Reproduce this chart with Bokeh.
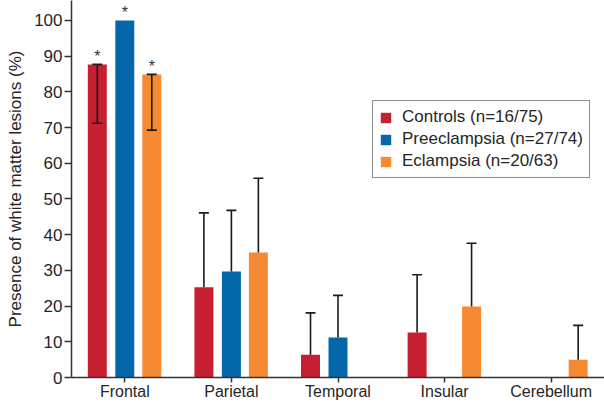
from bokeh.plotting import figure
from bokeh.models import ColumnDataSource, FactorRange, Range1d, Whisker, TeeHead, Legend, LegendItem
from bokeh.transform import dodge
from bokeh.core.properties import value
from bokeh.embed import file_html
from bokeh.resources import INLINE

categories = ["Frontal", "Parietal", "Temporal", "Insular", "Cerebellum"]
series_names = ["Controls (n=16/75)", "Preeclampsia (n=27/74)", "Eclampsia (n=20/63)"]
controls = [87.7, 25.3, 6.4, 12.6, 0]
preeclampsia = [100, 29.7, 11.2, 0, 0]
eclampsia = [84.9, 35.0, 0, 19.9, 5.0]
controls_err = [71.2, 46.1, 18.1, 28.8, None]
preeclampsia_err = [None, 46.8, 23.0, None, None]
eclampsia_err = [69.3, 55.8, None, 37.6, 14.6]
controls_sig = ["*", "", "", "", ""]
preeclampsia_sig = ["*", "", "", "", ""]
eclampsia_sig = ["*", "", "", "", ""]
y_ticks = [0, 10, 20, 30, 40, 50, 60, 70, 80, 90, 100]

colors = ["#C61F31", "#0467A9", "#F68A33"]
offsets = [-0.258, 0.0, 0.253]
FONT = "Liberation Sans"
TXT = "#262626"

p = figure(width=604, height=402, x_range=FactorRange(*categories, range_padding=0),
           y_range=Range1d(0, 105.6), output_backend="svg", toolbar_location=None,
           min_border_left=71, min_border_right=0, min_border_top=0, min_border_bottom=25)
p.outline_line_color = None
p.xgrid.grid_line_color = None
p.ygrid.grid_line_color = None
p.background_fill_color = "white"
p.border_fill_color = "white"

items = []
series = [(controls, controls_err, controls_sig), (preeclampsia, preeclampsia_err, preeclampsia_sig),
          (eclampsia, eclampsia_err, eclampsia_sig)]
for (vals, errs, sig), name, col, off in zip(series, series_names, colors, offsets):
    src = ColumnDataSource(dict(cat=categories, val=vals))
    r = p.vbar(x=dodge("cat", off, range=p.x_range), top="val", width=0.178, source=src,
               fill_color=col, line_color=None)
    items.append(LegendItem(label=name, renderers=[r]))
    down = dict(cat=[], lo=[], hi=[])
    up = dict(cat=[], lo=[], hi=[])
    for c, v, e in zip(categories, vals, errs):
        if e is None:
            continue
        d = down if e < v else up
        d["cat"].append(c)
        d["lo"].append(min(v, e))
        d["hi"].append(max(v, e))
    for d, heads in ((down, True), (up, False)):
        if not d["cat"]:
            continue
        ws = ColumnDataSource(d)
        w = Whisker(base=dodge("cat", off, range=p.x_range), lower="lo", upper="hi", source=ws,
                    line_color="#1a1a1a", line_width=1.6, level="annotation",
                    upper_head=TeeHead(size=10, line_color="#1a1a1a", line_width=1.6),
                    lower_head=TeeHead(size=10, line_color="#1a1a1a", line_width=1.6) if heads else None)
        p.add_layout(w)
    ss = ColumnDataSource(dict(cat=categories, val=vals, s=sig))
    p.text(x=dodge("cat", off, range=p.x_range), y="val", text="s", source=ss,
           text_align="center", text_baseline="bottom", y_offset=1,
           text_font=value(FONT), text_font_size="16px", text_color="#333333")

legend = Legend(items=items, location=(301, 199), border_line_color="#222222", border_line_width=1,
                label_text_font=FONT, label_text_font_size="17px", label_text_color=TXT,
                glyph_width=13, glyph_height=13, label_height=20, spacing=2, padding=6, margin=0,
                label_standoff=10, background_fill_alpha=1)
p.add_layout(legend)

p.yaxis.ticker = y_ticks
p.yaxis.axis_label = "Presence of white matter lesions (%)"
for ax in (p.xaxis[0], p.yaxis[0]):
    ax.axis_line_color = "#333333"
    ax.axis_line_width = 1.5
    ax.major_tick_line_color = "#333333"
    ax.major_tick_line_width = 1.5
    ax.major_tick_out = 7
    ax.major_tick_in = 0
    ax.minor_tick_line_color = None
    ax.major_label_text_font = FONT
    ax.major_label_text_font_size = "16px"
    ax.major_label_text_color = TXT
    ax.axis_label_text_font = FONT
    ax.axis_label_text_font_size = "17px"
    ax.axis_label_text_font_style = "normal"
    ax.axis_label_text_color = TXT
p.yaxis.major_label_text_font_size = "17px"
p.xaxis.major_tick_out = 5
p.yaxis.major_label_standoff = 2
p.xaxis.major_label_standoff = 0
p.yaxis.axis_label_standoff = 6

open("out.html", "w").write(file_html(p, INLINE))
